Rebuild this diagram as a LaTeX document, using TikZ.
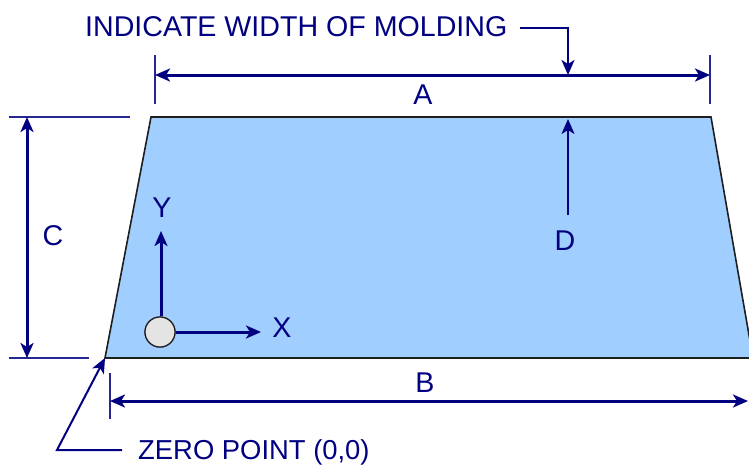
\documentclass[tikz,border=0pt]{standalone}
\usepackage{fontspec}
\setmainfont{Liberation Sans}
\usetikzlibrary{arrows.meta}
\definecolor{mdnavy}{RGB}{0,0,128}
\definecolor{mdblue}{RGB}{160,207,255}
\definecolor{mdedge}{RGB}{30,30,30}
\definecolor{mdgray}{RGB}{228,228,228}
\tikzset{
  platefill/.style={fill=mdblue,draw=mdedge,line width=1.6pt,line join=miter},
  dimarrow/.style={draw=mdnavy,line width=3pt,{Stealth[length=15pt,width=13pt,inset=4pt]}-{Stealth[length=15pt,width=13pt,inset=4pt]}},
  leadarrow/.style={draw=mdnavy,line width=3pt,-{Stealth[length=15pt,width=13pt,inset=4pt]}},
  extline/.style={draw=mdnavy!85!white,line width=1.3pt},
  leadline/.style={draw=mdnavy,line width=2pt,-{Stealth[length=15pt,width=13pt,inset=4pt]}},
  dimlabel/.style={text=mdnavy,font=\fontsize{28.6}{30}\selectfont,inner sep=0pt,anchor=base},
  originnode/.style={circle,draw=mdedge,line width=1.2pt,fill=mdgray,minimum size=30pt,inner sep=0pt}
}

\begin{document}
\begin{tikzpicture}[x=1pt,y=-1pt]
  \useasboundingbox (0,0) rectangle (749,464);
  \clip (0,0) rectangle (749,464);
  % molding outline
  \coordinate (tl) at (151,117);
  \coordinate (tr) at (711,117);
  \coordinate (br) at (753,358);
  \coordinate (bl) at (105,358);
  \draw[platefill] (tl) -- (tr) -- (br) -- (bl) -- cycle;
  % dimension A
  \coordinate (aext1) at (155,55);
  \coordinate (aext2) at (155,104);
  \coordinate (aext3) at (710,55);
  \coordinate (aext4) at (710,104);
  \coordinate (aleft) at (155,75);
  \coordinate (aright) at (710,75);
  \coordinate (amid) at (568,75);
  \draw[extline] (aext1) -- (aext2);
  \draw[extline] (aext3) -- (aext4);
  \draw[dimarrow] (aleft) -- (aright);
  \node[dimlabel] (lblA) at (423,104) {A};
  % width note
  \node[dimlabel,anchor=base west] (note) at (85,36) {INDICATE WIDTH OF MOLDING};
  \coordinate (notestart) at (520,28);
  \draw[leadline] (notestart) -| (amid);
  % dimension D
  \coordinate (dtail) at (568,215);
  \coordinate (dtop) at (568,119);
  \draw[leadline] (dtail) -- (dtop);
  \node[dimlabel] (lblD) at (565,250) {D};
  % dimension C
  \coordinate (cext1) at (9,117);
  \coordinate (cext2) at (130,117);
  \coordinate (cext3) at (9,358);
  \coordinate (cext4) at (89,358);
  \coordinate (ctop) at (27,117);
  \coordinate (cbot) at (27,358);
  \draw[extline] (cext1) -- (cext2);
  \draw[extline] (cext3) -- (cext4);
  \draw[dimarrow] (ctop) -- (cbot);
  \node[dimlabel] (lblC) at (53,245) {C};
  % dimension B
  \coordinate (bext1) at (110,373);
  \coordinate (bext2) at (110,419);
  \coordinate (bleft) at (110,401);
  \coordinate (bright) at (748,401);
  \draw[extline] (bext1) -- (bext2);
  \draw[dimarrow] (bleft) -- (bright);
  \node[dimlabel] (lblB) at (425,392) {B};
  % axes
  \node[originnode] (origin) at (160,332) {};
  \coordinate (ytip) at (161,231);
  \coordinate (xtip) at (261,332);
  \draw[leadarrow] (origin.north) ++(1,0) -- (ytip);
  \draw[leadarrow] (origin.east) -- (xtip);
  \node[originnode] at (origin) {};
  \node[dimlabel] (lblY) at (162,217) {Y};
  \node[dimlabel] (lblX) at (282,337) {X};
  % zero point
  \node[dimlabel,anchor=base west,font=\fontsize{27.4}{29}\selectfont] (zero) at (138,459) {ZERO POINT (0,0)};
  \coordinate (zbend) at (57,450);
  \coordinate (zstart) at (122,450);
  \draw[leadline,line join=miter] (zstart) -- (zbend) -- (bl);
\end{tikzpicture}
\end{document}
